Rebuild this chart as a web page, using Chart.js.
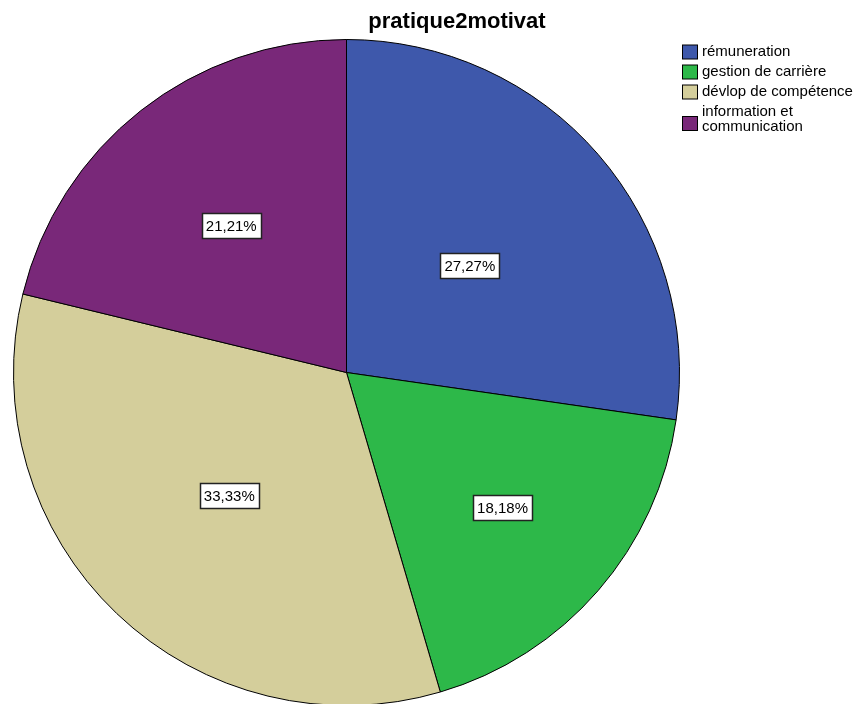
<!DOCTYPE html>
<html>
<head>
<meta charset="utf-8">
<script src="https://cdn.jsdelivr.net/npm/chart.js@4"></script>
<style>
  html, body { margin: 0; padding: 0; background: #ffffff; overflow: hidden; }
  #wrap { position: relative; width: 861px; height: 704px; overflow: hidden; }
  canvas { display: block; }
</style>
</head>
<body>
<div id="wrap"><canvas id="pie" width="861" height="740"></canvas></div>
<script>
// Données du graphique (effectifs, total 33)
const titre = 'pratique2motivat';
const categories = ['rémuneration', 'gestion de carrière', 'dévlop de compétence', 'information et communication'];
const effectifs = [9, 6, 11, 7];
const couleurs = ['#3e58ab', '#2db849', '#d4ce9b', '#792879'];
// découpage du texte de légende sur plusieurs lignes
const lignesLegende = [['rémuneration'], ['gestion de carrière'], ['dévlop de compétence'], ['information et', 'communication']];

const police = '"Liberation Sans", Arial, sans-serif';

// Position radiale des étiquettes (fraction du rayon)
const rayonEtiquette = [0.49, 0.62, 0.51, 0.56];

// Titre + légende
const decorPlugin = {
    id: 'decor',
    afterDraw(chart) {
        const ctx = chart.ctx;
        ctx.save();
        ctx.fillStyle = '#000';
        ctx.font = 'bold 22px ' + police;
        ctx.textAlign = 'center';
        ctx.textBaseline = 'middle';
        ctx.fillText(titre, 457, 22);

        // légende
        ctx.font = '15px ' + police;
        ctx.textAlign = 'left';
        let y = 52;
        lignesLegende.forEach((lignes, i) => {
            const h = (lignes.length - 1) * 15;
            const by = y + h / 2 - 7 + (lignes.length > 1 ? 4 : 0);
            ctx.fillStyle = couleurs[i];
            ctx.fillRect(682.5, by, 15, 14);
            ctx.strokeStyle = '#000';
            ctx.lineWidth = 1;
            ctx.strokeRect(682.5, by, 15, 14);
            ctx.fillStyle = '#000';
            lignes.forEach((t, k) => ctx.fillText(t, 702, y + k * 15));
            y += 20 + h;
        });
        ctx.restore();
    }
};

// Étiquettes de pourcentage dans des cadres blancs
const etiquettesPlugin = {
    id: 'etiquettes',
    afterDatasetsDraw(chart) {
        const ctx = chart.ctx;
        const meta = chart.getDatasetMeta(0);
        const total = effectifs.reduce((a, b) => a + b, 0);
        ctx.save();
        ctx.font = '15px ' + police;
        ctx.textAlign = 'center';
        ctx.textBaseline = 'middle';
        meta.data.forEach((arc, i) => {
            const p = arc.getProps(['x', 'y', 'startAngle', 'endAngle', 'outerRadius'], true);
            const mid = (p.startAngle + p.endAngle) / 2;
            const r = p.outerRadius * rayonEtiquette[i];
            const cx = p.x + Math.cos(mid) * r;
            const cy = p.y + Math.sin(mid) * r;
            const txt = (effectifs[i] / total * 100).toFixed(2).replace('.', ',') + '%';
            const w = ctx.measureText(txt).width + 8;
            const h = 25;
            ctx.fillStyle = '#fff';
            ctx.fillRect(Math.round(cx - w / 2) + 0.5, Math.round(cy - h / 2) + 0.5, Math.round(w), h);
            ctx.strokeStyle = '#222';
            ctx.lineWidth = 1.5;
            ctx.strokeRect(Math.round(cx - w / 2) + 0.5, Math.round(cy - h / 2) + 0.5, Math.round(w), h);
            ctx.fillStyle = '#000';
            ctx.fillText(txt, cx, cy + 1);
        });
        ctx.restore();
    }
};

new Chart(document.getElementById('pie'), {
    type: 'pie',
    data: {
        labels: categories,
        datasets: [{
            data: effectifs,
            backgroundColor: couleurs,
            borderColor: '#000',
            borderWidth: 1
        }]
    },
    options: {
        responsive: false,
        animation: false,
        layout: {
            padding: { left: 13, top: 39, right: 181, bottom: 34 }
        },
        plugins: {
            legend: { display: false },
            title: { display: false },
            tooltip: { enabled: false }
        }
    },
    plugins: [etiquettesPlugin, decorPlugin]
});
</script>
</body>
</html>
